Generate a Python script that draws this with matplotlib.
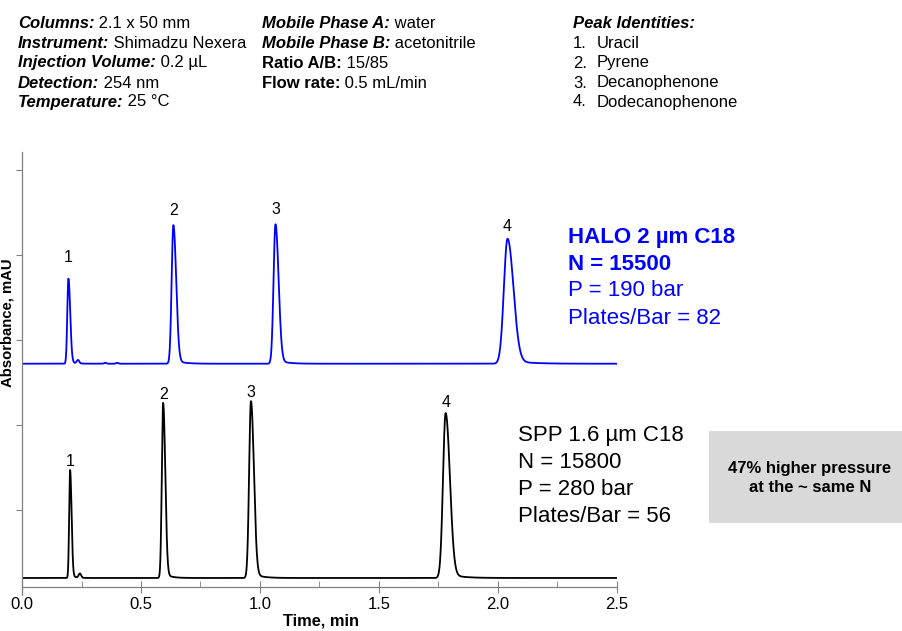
import numpy as np
import matplotlib
matplotlib.use("Agg")
import matplotlib.pyplot as plt
from matplotlib.patches import Rectangle

plt.rcParams['font.family'] = ['Liberation Sans', 'DejaVu Sans']

# peak table: retention time (min), height above baseline (mAU), width sigma (min)
halo_rt = [0.195, 0.636, 1.065, 2.04]
halo_height = [100, 163, 164, 147]
halo_sigma = [0.0055, 0.0085, 0.0095, 0.018]
halo_baseline = 272
halo_minor_rt = [0.235, 0.35, 0.40]
halo_minor_height = [4, 1, 1]

spp_rt = [0.202, 0.593, 0.962, 1.78]
spp_height = [127, 206, 208, 194]
spp_sigma = [0.0045, 0.0065, 0.009, 0.013]
spp_baseline = 20
spp_minor_rt = [0.243]
spp_minor_height = [5]

peak_labels = ['1', '2', '3', '4']
halo_label_gap = [21, 15, 15, 12]   # px from apex to label centre
spp_label_gap = [9, 8, 9, 11]

x_ticks = [0.0, 0.5, 1.0, 1.5, 2.0, 2.5]
y_ticks = [100, 200, 300, 400, 500]

header_col1 = [("Columns:", " 2.1 x 50 mm"),
               ("Instrument:", " Shimadzu Nexera"),
               ("Injection Volume:", " 0.2 µL"),
               ("Detection:", " 254 nm"),
               ("Temperature:", " 25 °C")]
header_col2 = [("Mobile Phase A:", " water", True),
               ("Mobile Phase B:", " acetonitrile", True),
               ("Ratio A/B:", " 15/85", False),
               ("Flow rate:", " 0.5 mL/min", False)]
peak_names = ["Uracil", "Pyrene", "Decanophenone", "Dodecanophenone"]

halo_text = ["HALO 2 µm C18", "N = 15500", "P = 190 bar", "Plates/Bar = 82"]
spp_text = ["SPP 1.6 µm C18", "N = 15800", "P = 280 bar", "Plates/Bar = 56"]


def trace(t, rts, heights, sigmas, base, mrt, mh):
    y = np.full_like(t, float(base))
    for r, h, s in zip(rts, heights, sigmas):
        d = t - r
        sig = np.where(d < 0, s * 0.85, s * 1.35)
        y += h * np.exp(-0.5 * (d / sig) ** 2)
        # slight tailing
        y += h * 0.03 * np.where(d > 0, np.exp(-d / (s * 4)), 0) * (1 - np.exp(-(np.clip(d, 0, None) / s) ** 2))
    for r, h in zip(mrt, mh):
        y += h * np.exp(-0.5 * ((t - r) / 0.005) ** 2)
    return y


W, H = 903, 631
fig = plt.figure(figsize=(W / 100, H / 100), dpi=100)

x0, x1, ytop, ybot = 22, 617, 152, 587
ax = fig.add_axes([x0 / W, (H - ybot) / H, (x1 - x0) / W, (ybot - ytop) / H])

t = np.linspace(0, 2.5, 6000)
y_halo = trace(t, halo_rt, halo_height, halo_sigma, halo_baseline, halo_minor_rt, halo_minor_height)
y_spp = trace(t, spp_rt, spp_height, spp_sigma, spp_baseline, spp_minor_rt, spp_minor_height)
ax.plot(t, y_halo, color='#0000ff', lw=1.3)
ax.plot(t, y_spp, color='black', lw=1.3)

for lab, r, h, g in zip(peak_labels, halo_rt, halo_height, halo_label_gap):
    ax.annotate(lab, (r, halo_baseline + h), xytext=(0, g * 0.72), textcoords='offset points',
                ha='center', va='center', fontsize=11.5)
for lab, r, h, g in zip(peak_labels, spp_rt, spp_height, spp_label_gap):
    ax.annotate(lab, (r, spp_baseline + h), xytext=(0, g * 0.72), textcoords='offset points',
                ha='center', va='center', fontsize=11.5)

ax.set_xlim(0, 2.5)
ax.set_ylim(9.4, 521)
ax.set_xticks(x_ticks)
ax.set_xticklabels([f"{v:.1f}" for v in x_ticks], fontsize=12)
ax.set_xticks([0.25, 0.75, 1.25, 1.75, 2.25], minor=True)
ax.set_yticks(y_ticks)
ax.set_yticklabels([])
ax.tick_params(axis='x', which='major', direction='inout', length=8, color='#808080', pad=3)
ax.tick_params(axis='x', which='minor', direction='in', length=4, color='#808080')
ax.tick_params(axis='y', which='major', direction='out', length=4, color='#808080')
for s in ['top', 'right']:
    ax.spines[s].set_visible(False)
for s in ['left', 'bottom']:
    ax.spines[s].set_color('#808080')
    ax.spines[s].set_linewidth(0.9)
ax.spines['left'].set_bounds(0, 521)
fig.text(321 / W, 1 - 621 / H, "Time, min", ha='center', va='center',
         fontsize=11.8, fontweight='bold')
fig.text(8 / W, 1 - 323 / H, "Absorbance, mAU", rotation=90, ha='center', va='center',
         fontsize=10.7, fontweight='bold')

# header text
renderer = fig.canvas.get_renderer()


def two_part(x, y, a, b, italic=True, size=12):
    t1 = fig.text(x / W, 1 - y / H, a, fontsize=size, fontweight='bold',
                  fontstyle='italic' if italic else 'normal', va='center', ha='left')
    bb = t1.get_window_extent(renderer)
    fig.text(bb.x1 / W, 1 - y / H, b, fontsize=size, va='center', ha='left')


rows_y = [23, 43, 63, 83, 102]
for (a, b), yy in zip(header_col1, rows_y):
    two_part(18, yy, a, b)
for (a, b, it), yy in zip(header_col2, rows_y):
    two_part(262, yy, a, b, italic=it)
fig.text(573 / W, 1 - rows_y[0] / H, "Peak Identities:", fontsize=12, fontweight='bold',
         fontstyle='italic', va='center')
for i, (name, yy) in enumerate(zip(peak_names, rows_y[1:])):
    fig.text(573 / W, 1 - yy / H, f"{i + 1}.", fontsize=12, va='center')
    fig.text(597 / W, 1 - yy / H, name, fontsize=12, va='center')

for i, line in enumerate(halo_text):
    fig.text(568 / W, 1 - (237 + 27 * i) / H, line, color='#0000ff', fontsize=16,
             fontweight='bold' if i < 2 else 'normal', va='center')
for i, line in enumerate(spp_text):
    fig.text(518 / W, 1 - (435 + 27.3 * i) / H, line, color='black', fontsize=16, va='center')

fig.patches.append(Rectangle((709 / W, 1 - 523 / H), (903 - 709) / W, (523 - 431) / H,
                             transform=fig.transFigure, facecolor='#d9d9d9', edgecolor='none'))
fig.text(810 / W, 1 - 468 / H, "47% higher pressure", fontsize=12, fontweight='bold',
         ha='center', va='center')
fig.text(810 / W, 1 - 487 / H, "at the ~ same N", fontsize=12, fontweight='bold',
         ha='center', va='center')

fig.savefig("out.png", dpi=100)
